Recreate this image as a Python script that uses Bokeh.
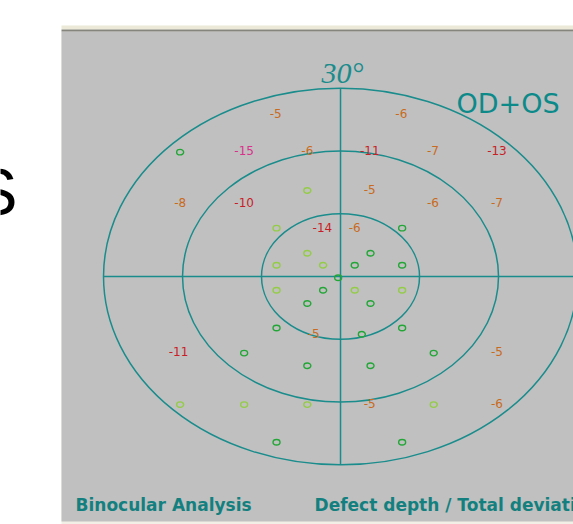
from bokeh.plotting import figure
from bokeh.models import ColumnDataSource, Range1d
from bokeh.core.properties import value
from bokeh.embed import file_html
from bokeh.resources import INLINE

# ---------------- data (degrees of visual field) ----------------
# test points seen normally (drawn as small rings); shade: "G" = green, "L" = light green
ok_x = [-20.3, -4.2, -8.1, 7.8, -4.2, 3.8, -8.1, -2.2, 1.8, 7.8, -0.3, -8.1, -2.2, 1.8, 7.8,
        -4.2, 3.8, -8.1, 7.8, 2.7, -12.2, 11.8, -4.2, 3.8, -20.3, -12.2, -4.2, 11.8, -8.1, 7.8]
ok_y = [19.8, 13.7, 7.7, 7.7, 3.7, 3.7, 1.8, 1.8, 1.8, 1.8, -0.2, -2.2, -2.2, -2.2, -2.2,
        -4.3, -4.3, -8.2, -8.2, -9.2, -12.2, -12.2, -14.2, -14.2, -20.4, -20.4, -20.4, -20.4, -26.4, -26.4]
ok_shade = ["G", "L", "L", "G", "L", "G", "L", "L", "G", "G", "G", "L", "G", "L", "L",
            "G", "G", "G", "G", "G", "G", "G", "G", "G", "L", "L", "L", "L", "G", "G"]

# test points with a defect: defect depth in dB
def_x = [-8.2, 7.7, -12.2, -4.2, 3.7, 11.7, 19.8, 3.7, -20.3, -12.2, 11.7, 19.8, -2.3, 1.8,
         -3.4, -20.5, 19.8, 3.7, 19.8]
def_y = [26.0, 26.0, 20.0, 20.0, 20.0, 20.0, 20.0, 13.8, 11.8, 11.8, 11.8, 11.8, 7.8, 7.8,
         -9.1, -12.0, -12.0, -20.3, -20.3]
def_val = [-5, -6, -15, -6, -11, -7, -13, -5, -8, -10, -6, -7, -14, -6,
           -5, -11, -5, -5, -6]

ring_radii = [10, 20, 30]
ring_label = "30°"
eye_label = "OD+OS"
footer_left = "Binocular Analysis"
footer_right = "Defect depth / Total deviation"

# ---------------- styling ----------------
TEAL = "#1a8c8c"
SHADE = {"G": "#22a636", "L": "#93cc45"}


def depth_color(v):
    if v <= -15:
        return "#d8318a"
    if v <= -10:
        return "#c81e26"
    return "#c96a1c"


# plot window (whole figure is the frame)
X0, X1 = -43.04, 29.49
Y0, Y1 = -39.49, 43.95

p = figure(width=573, height=524, output_backend="svg", toolbar_location=None,
           x_range=Range1d(X0, X1), y_range=Range1d(Y0, Y1),
           x_axis_location=None, y_axis_location=None,
           min_border=0, min_border_left=0, min_border_right=0,
           min_border_top=0, min_border_bottom=0)
p.grid.visible = False
p.outline_line_color = None
p.background_fill_color = "white"
p.border_fill_color = "white"

# window panel
PANEL_L = -35.32
p.quad(left=[PANEL_L], right=[X1 + 1], top=[39.01], bottom=[Y0 - 1],
       fill_color="#f2f0e6", line_color=None)
p.quad(left=[PANEL_L], right=[X1 + 1], top=[39.01], bottom=[-39.01],
       fill_color="#c0c0c0", line_color=None)
p.quad(left=[PANEL_L], right=[X1 + 1], top=[39.97], bottom=[39.33],
       fill_color="#ece9d8", line_color=None)
p.quad(left=[PANEL_L], right=[X1 + 1], top=[39.33], bottom=[39.01],
       fill_color="#85857d", line_color=None)

# slide fragment on the left
p.text(x=[-40.9], y=[13.5], text=["S"], text_font=value("Liberation Sans"),
       text_font_size="66px", text_color="black", text_align="right",
       text_baseline="middle")

# rings and axes
p.ellipse(x=[0] * len(ring_radii), y=[0] * len(ring_radii),
          width=[2 * r for r in ring_radii], height=[2 * r for r in ring_radii],
          fill_color=None, line_color=TEAL, line_width=1.5)
outer = max(ring_radii)
p.segment(x0=[-outer, 0], y0=[0, -outer], x1=[outer, 0], y1=[0, outer],
          line_color=TEAL, line_width=1.5)

# normal points
src_ok = ColumnDataSource(dict(x=ok_x, y=ok_y, c=[SHADE[s] for s in ok_shade]))
p.ellipse(x="x", y="y", width=7, height=5.5, width_units="screen",
          height_units="screen", fill_color=None, line_color="c",
          line_width=1.4, source=src_ok)

# defect values
src_def = ColumnDataSource(dict(x=def_x, y=def_y, t=[str(v) for v in def_val],
                                c=[depth_color(v) for v in def_val]))
p.text(x="x", y="y", text="t", text_color="c", text_font=value("DejaVu Sans"),
       text_font_size="12px", text_align="center", text_baseline="middle",
       source=src_def)

# labels
p.text(x=[0.25], y=[32.5], text=[ring_label], text_font=value("Liberation Serif"),
       text_font_style="italic", text_font_size="30px", text_color=TEAL,
       text_align="center", text_baseline="middle")
p.text(x=[14.68], y=[27.5], text=[eye_label], text_font=value("DejaVu Sans"),
       text_font_size="27px", text_color="#0c8a8a", text_align="left",
       text_baseline="middle")
p.text(x=[-33.54, -3.29], y=[-36.4, -36.4], text=[footer_left, footer_right],
       text_font=value("DejaVu Sans"), text_font_style="bold",
       text_font_size="17px", text_color="#13807f", text_align="left",
       text_baseline="middle")

open("out.html", "w").write(file_html(p, INLINE))
